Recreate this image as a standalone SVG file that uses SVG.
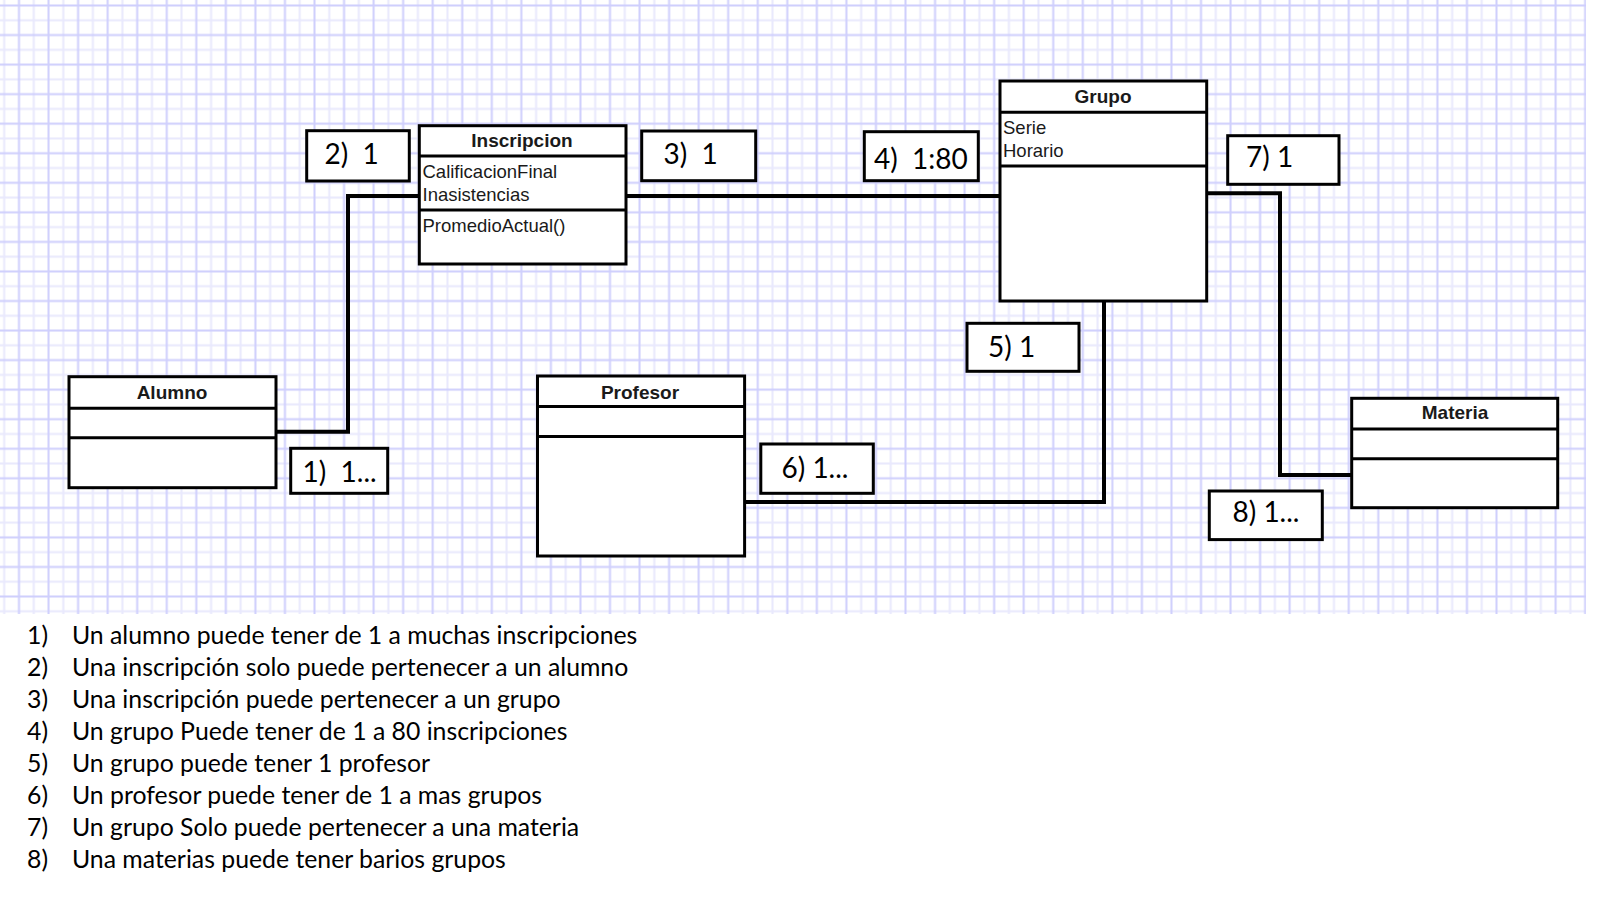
<svg xmlns="http://www.w3.org/2000/svg" width="1600" height="900" viewBox="0 0 1600 900">
<defs>
<pattern id="grid" patternUnits="userSpaceOnUse" x="-3.17" y="-16.67" width="29.55" height="29.55">
<rect width="29.55" height="29.55" fill="#ffffff"/>
<rect x="6.39" y="0" width="2" height="29.55" fill="#e9e9fd"/>
<rect x="0" y="6.39" width="29.55" height="2" fill="#e9e9fd"/>
<rect x="21.17" y="0" width="2" height="29.55" fill="#cfcffd"/>
<rect x="0" y="21.17" width="29.55" height="2" fill="#cfcffd"/>
</pattern>
<style>
.box{fill:#fff;stroke:#000;stroke-width:3}
.dv{stroke:#000;stroke-width:3}
.conn{fill:none;stroke:#000;stroke-width:4}
.title{font-family:"Liberation Sans",Arial,sans-serif;font-weight:bold;font-size:19px;text-anchor:middle;fill:#1a1a1a}
.attr{font-family:"Liberation Sans",Arial,sans-serif;font-size:18.5px;fill:#1a1a1a}
.lbl{font-family:Lato,"Liberation Sans",sans-serif;font-size:28px;fill:#000}
.note{font-family:Lato,"Liberation Sans",sans-serif;font-size:24.8px;fill:#000}
</style>
</defs>
<rect width="1600" height="900" fill="#fff"/>
<rect x="0" y="0" width="1586" height="614" fill="url(#grid)"/>

<g id="connectors">
<path class="conn" d="M276,431.7 H348 V196 H419.3"/>
<path class="conn" d="M626,196 H1000"/>
<path class="conn" d="M1104,301 V502 H744.6"/>
<path class="conn" d="M1206.7,193.3 H1280 V475 H1351.7"/>
</g>

<g id="alumno">
<rect class="box" x="69" y="376.7" width="207" height="111"/>
<line class="dv" x1="69" y1="408.3" x2="276" y2="408.3"/>
<line class="dv" x1="69" y1="437.7" x2="276" y2="437.7"/>
<text class="title" x="172" y="399.3">Alumno</text>
</g>

<g id="inscripcion">
<rect class="box" x="419.3" y="125.7" width="206.7" height="138.3"/>
<line class="dv" x1="419.3" y1="156" x2="626" y2="156"/>
<line class="dv" x1="419.3" y1="210" x2="626" y2="210"/>
<text class="title" x="522" y="146.7">Inscripcion</text>
<text class="attr" x="422.5" y="178.3">CalificacionFinal</text>
<text class="attr" x="422.5" y="201">Inasistencias</text>
<text class="attr" x="422.5" y="231.7">PromedioActual()</text>
</g>

<g id="grupo">
<rect class="box" x="1000" y="81" width="206.7" height="220"/>
<line class="dv" x1="1000" y1="112.3" x2="1206.7" y2="112.3"/>
<line class="dv" x1="1000" y1="166" x2="1206.7" y2="166"/>
<text class="title" x="1103" y="103.3">Grupo</text>
<text class="attr" x="1003" y="134">Serie</text>
<text class="attr" x="1003" y="157.3">Horario</text>
</g>

<g id="profesor">
<rect class="box" x="537.5" y="376" width="207.1" height="180"/>
<line class="dv" x1="537.5" y1="406.5" x2="744.6" y2="406.5"/>
<line class="dv" x1="537.5" y1="436.6" x2="744.6" y2="436.6"/>
<text class="title" x="640" y="398.5">Profesor</text>
</g>

<g id="materia">
<rect class="box" x="1351.7" y="398.3" width="206" height="109.4"/>
<line class="dv" x1="1351.7" y1="429" x2="1557.7" y2="429"/>
<line class="dv" x1="1351.7" y1="458.7" x2="1557.7" y2="458.7"/>
<text class="title" x="1455" y="419.3">Materia</text>
</g>

<g id="label-1">
<rect class="box" x="290.7" y="448.3" width="97" height="45"/>
<text class="lbl" x="302.5" y="481.7" xml:space="preserve">1)  1...</text>
</g>
<g id="label-2">
<rect class="box" x="306.7" y="130.7" width="102.6" height="50.3"/>
<text class="lbl" x="324.5" y="163.5" xml:space="preserve">2)  1</text>
</g>
<g id="label-3">
<rect class="box" x="641.7" y="131" width="114" height="49.7"/>
<text class="lbl" x="663.5" y="163.5" xml:space="preserve">3)  1</text>
</g>
<g id="label-4">
<rect class="box" x="864.3" y="131.7" width="114" height="49"/>
<text class="lbl" x="874" y="168.5" xml:space="preserve">4)  1:80</text>
</g>
<g id="label-5">
<rect class="box" x="967" y="323.3" width="112" height="48"/>
<text class="lbl" x="988" y="357">5) 1</text>
</g>
<g id="label-6">
<rect class="box" x="760.8" y="444" width="112.5" height="49.3"/>
<text class="lbl" x="781.5" y="478.3">6) 1...</text>
</g>
<g id="label-7">
<rect class="box" x="1227.7" y="135.7" width="111.3" height="48.6"/>
<text class="lbl" x="1246" y="167.3">7) 1</text>
</g>
<g id="label-8">
<rect class="box" x="1209.3" y="491" width="113" height="48.6"/>
<text class="lbl" x="1232.5" y="521.7">8) 1...</text>
</g>

<g id="notes">
<text class="note" x="27" y="643.6">1)</text><text class="note" x="72" y="643.6">Un alumno puede tener de 1 a muchas inscripciones</text>
<text class="note" x="27" y="675.6">2)</text><text class="note" x="72" y="675.6">Una inscripción solo puede pertenecer a un alumno</text>
<text class="note" x="27" y="707.6">3)</text><text class="note" x="72" y="707.6">Una inscripción puede pertenecer a un grupo</text>
<text class="note" x="27" y="739.6">4)</text><text class="note" x="72" y="739.6">Un grupo Puede tener de 1 a 80 inscripciones</text>
<text class="note" x="27" y="771.6">5)</text><text class="note" x="72" y="771.6">Un grupo puede tener 1 profesor</text>
<text class="note" x="27" y="803.6">6)</text><text class="note" x="72" y="803.6">Un profesor puede tener de 1 a mas grupos</text>
<text class="note" x="27" y="835.6">7)</text><text class="note" x="72" y="835.6">Un grupo Solo puede pertenecer a una materia</text>
<text class="note" x="27" y="867.6">8)</text><text class="note" x="72" y="867.6">Una materias puede tener barios grupos</text>
</g>
</svg>
